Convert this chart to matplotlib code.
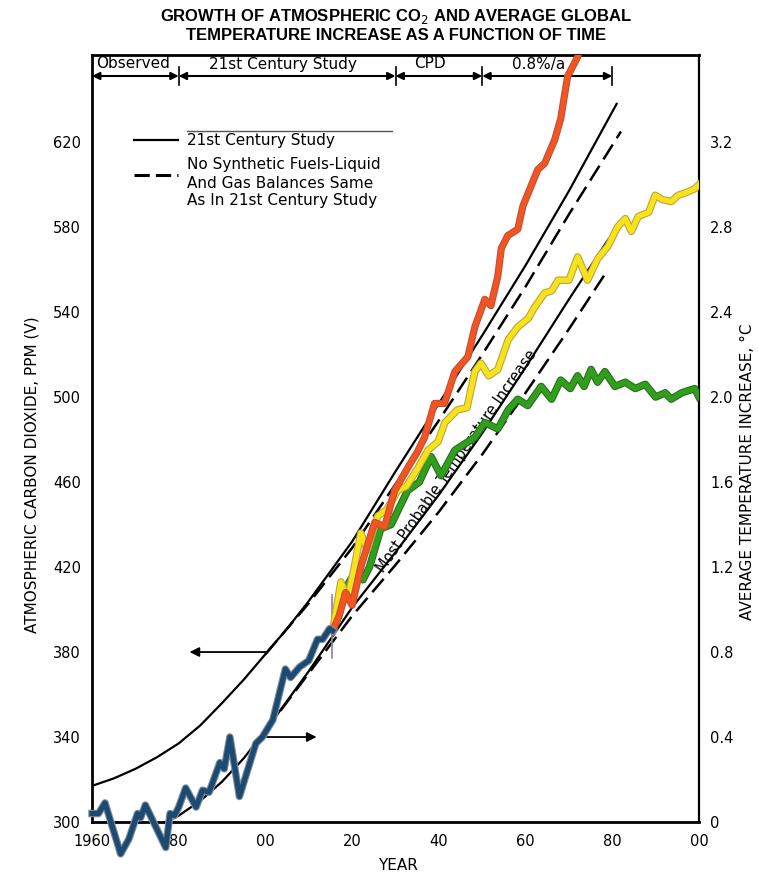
import numpy as np
import matplotlib.pyplot as plt
import matplotlib.patheffects as pe
from matplotlib.lines import Line2D
from matplotlib.transforms import blended_transform_factory

plt.rcParams['font.family'] = ['DejaVu Sans']

W, H = 758., 873.

# --- black curves of the original chart ---
study_years = [1960, 1965, 1970, 1975, 1980, 1985, 1990, 1995, 2000, 2005, 2010, 2015,
               2020, 2030, 2040, 2050, 2060, 2070, 2081]
co2_study   = [317, 320.5, 325, 330.5, 337, 345.5, 356, 367, 379, 391, 404, 418,
               432, 465, 497, 529, 562, 597, 638]
nosyn_years = [2000, 2010, 2020, 2030, 2040, 2050, 2060, 2070, 2082]
co2_nosyn   = [379, 403, 429, 459, 489, 520, 552, 586, 625]

temp_years  = [1977, 1980, 1985, 1990, 1995, 2000, 2005, 2010, 2015, 2020, 2030, 2040,
               2050, 2060, 2070, 2079]
temp_study  = [0.0, 0.03, 0.10, 0.19, 0.30, 0.43, 0.57, 0.71, 0.86, 1.01, 1.27, 1.54,
               1.83, 2.14, 2.46, 2.74]
tnosyn_years = [2000, 2010, 2020, 2030, 2040, 2050, 2060, 2070, 2079]
temp_nosyn  = [0.43, 0.70, 0.97, 1.21, 1.46, 1.73, 2.02, 2.32, 2.60]

# --- coloured overlays (deg C) ---
obs_years = [1960, 1961.5, 1963, 1966.6, 1968.5, 1970.5, 1971.2, 1972.3, 1977, 1978, 1979, 1980,
             1981.6, 1984, 1985.5, 1987, 1989.5, 1990.5, 1991.8, 1994, 1997.8, 1999.3, 2001.7,
             2004.6, 2005.8, 2007.9, 2010, 2011, 2012, 2013.2, 2014.8, 2015.5]
obs_temp  = [0.04, 0.04, 0.09, -0.15, -0.08, 0.04, 0.02, 0.08, -0.12, 0.04, 0.03, 0.07,
             0.16, 0.07, 0.15, 0.14, 0.28, 0.25, 0.40, 0.12, 0.37, 0.40, 0.48,
             0.72, 0.68, 0.73, 0.76, 0.81, 0.86, 0.86, 0.91, 0.90]

high_years = [2015.5, 2017, 2018.5, 2020, 2022, 2023.5, 2025.2, 2027.5, 2029.8, 2031.5, 2033.5,
              2035, 2036.7, 2039, 2041.3, 2043.7, 2046.7, 2048.3, 2050.6, 2052, 2053.6, 2054.4,
              2055.9, 2058.2, 2059.4, 2062.8, 2064.4, 2066.7, 2068.1, 2069.7, 2072, 2074]
high_temp  = [0.90, 0.97, 1.08, 1.02, 1.20, 1.30, 1.41, 1.39, 1.56, 1.62, 1.69,
              1.74, 1.81, 1.97, 1.97, 2.12, 2.19, 2.33, 2.46, 2.43, 2.57, 2.70,
              2.76, 2.79, 2.90, 3.07, 3.10, 3.21, 3.31, 3.51, 3.60, 3.75]

mid_years = [2015.5, 2017.4, 2019, 2020.5, 2022, 2023.5, 2025.9, 2028, 2030.5, 2032.5, 2035,
             2037.5, 2039.8, 2041.4, 2044.3, 2046.5, 2048.3, 2049.7, 2051.5, 2053.6, 2056,
             2058.2, 2060.6, 2062, 2064.4, 2066, 2067.5, 2070, 2072, 2074.3, 2076.6, 2079,
             2081.2, 2083, 2084.4, 2086, 2088.4, 2089.9, 2091.5, 2093.6, 2095.2, 2096.7, 2099, 2100]
mid_temp  = [0.90, 1.13, 1.05, 1.20, 1.36, 1.28, 1.44, 1.47, 1.56, 1.58, 1.66,
             1.75, 1.79, 1.88, 1.94, 1.95, 2.12, 2.16, 2.10, 2.13, 2.27,
             2.33, 2.37, 2.42, 2.49, 2.50, 2.55, 2.55, 2.66, 2.55, 2.65, 2.71,
             2.80, 2.84, 2.78, 2.85, 2.87, 2.95, 2.93, 2.92, 2.95, 2.96, 2.98, 3.00]

low_years = [2015.5, 2017, 2018.5, 2020.5, 2022.5, 2024, 2026.6, 2029, 2032.8, 2035.5, 2038.2,
             2040.5, 2043.7, 2046, 2048.3, 2050.6, 2053.6, 2056, 2058.2, 2060.5, 2063.6, 2066,
             2068.1, 2070.3, 2072, 2073.5, 2075.1, 2076.6, 2078.3, 2080.6, 2083, 2085.3, 2087.6,
             2090, 2092.2, 2093.6, 2096, 2099, 2100]
low_temp  = [0.90, 0.98, 1.10, 1.17, 1.14, 1.20, 1.38, 1.40, 1.56, 1.60, 1.72,
             1.63, 1.75, 1.78, 1.81, 1.88, 1.85, 1.94, 1.99, 1.96, 2.05, 1.99,
             2.08, 2.04, 2.10, 2.05, 2.13, 2.07, 2.12, 2.05, 2.07, 2.04, 2.06,
             2.00, 2.02, 1.99, 2.02, 2.04, 2.00]

band_edges  = [1960, 1980, 2030, 2050, 2080]
band_labels = ['Observed', '21st Century Study', 'CPD', '0.8%/a']
band_label_x = [1969.5, 2004, 2038, 2063]

co2_ticks  = [300, 340, 380, 420, 460, 500, 540, 580, 620]
temp_ticks = [0, 0.4, 0.8, 1.2, 1.6, 2.0, 2.4, 2.8, 3.2]
year_ticks = [1960, 1980, 2000, 2020, 2040, 2060, 2080, 2100]
year_labels = ['1960', '80', '00', '20', '40', '60', '80', '00']


def fx(x):
    return x / W


def fy(y):
    return 1 - y / H


fig = plt.figure(figsize=(W / 100, H / 100), dpi=100)
ax = fig.add_axes([fx(92), fy(822), (699 - 92) / W, (822 - 55) / H])
ax.set_xlim(1960, 2100)
ax.set_ylim(300, 661)
ax2 = ax.twinx()
ax2.set_ylim(0, 3.61)

for s in ['left', 'bottom', 'top']:
    ax.spines[s].set_linewidth(2)
ax.spines['right'].set_visible(False)
for s in ['left', 'bottom', 'top']:
    ax2.spines[s].set_visible(False)
ax2.spines['right'].set_linewidth(1.6)

ax.set_xticks(year_ticks)
ax.set_xticklabels(year_labels)
ax.set_yticks(co2_ticks)
ax.set_yticklabels([str(v) for v in co2_ticks])
ax2.set_yticks(temp_ticks)
ax2.set_yticklabels(['0' if v == 0 else '%.1f' % v for v in temp_ticks])
ax.tick_params(axis='y', length=0, pad=8, labelsize=10.5)
ax.tick_params(axis='x', length=0, pad=9, labelsize=10.5)
ax2.tick_params(axis='y', length=0, pad=8, labelsize=10.5)

# CO2 curves
ax.plot(study_years, co2_study, c='k', lw=1.6)
ax.plot(nosyn_years, co2_nosyn, c='k', lw=1.8, dashes=(7, 3))

# temperature curves
ax2.plot(temp_years, temp_study, c='k', lw=1.6)
ax2.plot(tnosyn_years, temp_nosyn, c='k', lw=1.8, dashes=(7, 3))

ax2.text(2044, 1.70, 'Most Probable Temperature Increase', rotation=55,
         rotation_mode='anchor', ha='center', va='center', fontsize=10.5, zorder=2)

# arrows pointing to the axes
ax.annotate('', xy=(1982.5, 380), xytext=(2000, 380),
            arrowprops=dict(arrowstyle='-|>', color='k', lw=1.3, shrinkA=0, shrinkB=0,
                            mutation_scale=14))
ax.annotate('', xy=(2011.8, 340), xytext=(2000, 340),
            arrowprops=dict(arrowstyle='-|>', color='k', lw=1.3, shrinkA=0, shrinkB=0,
                            mutation_scale=14))

# period band along the top
trans = blended_transform_factory(ax.transData, ax.transAxes)
yb = (822 - 76) / 767.
for i in range(len(band_edges) - 1):
    ax.annotate('', xy=(band_edges[i], yb), xytext=(band_edges[i + 1], yb),
                xycoords=trans, textcoords=trans,
                arrowprops=dict(arrowstyle='<|-|>', color='k', lw=1.5, shrinkA=0, shrinkB=0,
                                mutation_scale=11))
    ax.text(band_label_x[i], (822 - 64) / 767., band_labels[i], transform=trans,
            ha='center', va='center', fontsize=11)
for x in band_edges[1:]:
    ax.plot([x, x], [(822 - 67) / 767., (822 - 85) / 767.], transform=trans, c='k', lw=1.2)

# coloured overlays
def fat(edge, lw):
    return [pe.Stroke(linewidth=lw + 1.6, foreground=edge), pe.Normal()]

ax2.plot([2015.3, 2015.3], [0.77, 1.07], c='#8a80a8', lw=1.2, zorder=3)
ax2.plot(low_years, low_temp, c='#2fa01c', lw=3.8, zorder=4,
         path_effects=fat('#2f6b22', 3.8), solid_joinstyle='round')
ax2.plot(mid_years, mid_temp, c='#f8e21a', lw=3.8, zorder=5,
         path_effects=fat('#b8a640', 3.8), solid_joinstyle='round')
ax2.plot(high_years, high_temp, c='#f2551f', lw=3.6, zorder=6,
         path_effects=fat('#c0503a', 3.6), solid_joinstyle='round')
ax2.plot(obs_years, obs_temp, c='#1c4a70', lw=3.8, zorder=7, clip_on=False,
         path_effects=fat('#7f8fa0', 3.8), solid_joinstyle='round')

# legend drawn like the original
fig.add_artist(Line2D([fx(187), fx(392)], [fy(131), fy(131)], c='#555555', lw=1.0))
fig.add_artist(Line2D([fx(134), fx(178)], [fy(140), fy(140)], c='k', lw=1.6))
fig.text(fx(187), fy(140), '21st Century Study', ha='left', va='center', fontsize=11)
fig.add_artist(Line2D([fx(134), fx(178)], [fy(175), fy(175)], c='k', lw=2.2, dashes=(5, 2)))
fig.text(fx(187), fy(183), 'No Synthetic Fuels-Liquid\nAnd Gas Balances Same\nAs In 21st Century Study',
         ha='left', va='center', fontsize=11, linespacing=1.25)

fig.text(fx(396), fy(17), 'GROWTH OF ATMOSPHERIC CO$_2$ AND AVERAGE GLOBAL',
         ha='center', va='center', fontsize=12, fontweight='bold', family='Liberation Sans')
fig.text(fx(396), fy(35), 'TEMPERATURE INCREASE AS A FUNCTION OF TIME',
         ha='center', va='center', fontsize=12, fontweight='bold', family='Liberation Sans')
fig.text(fx(32), fy(475), 'ATMOSPHERIC CARBON DIOXIDE, PPM (V)', rotation=90,
         ha='center', va='center', fontsize=11)
fig.text(fx(747), fy(472), 'AVERAGE TEMPERATURE INCREASE, \u00b0C', rotation=90,
         ha='center', va='center', fontsize=11)
fig.text(fx(398), fy(865), 'YEAR', ha='center', va='center', fontsize=11)

plt.savefig('out.png', dpi=100)
plt.close()
